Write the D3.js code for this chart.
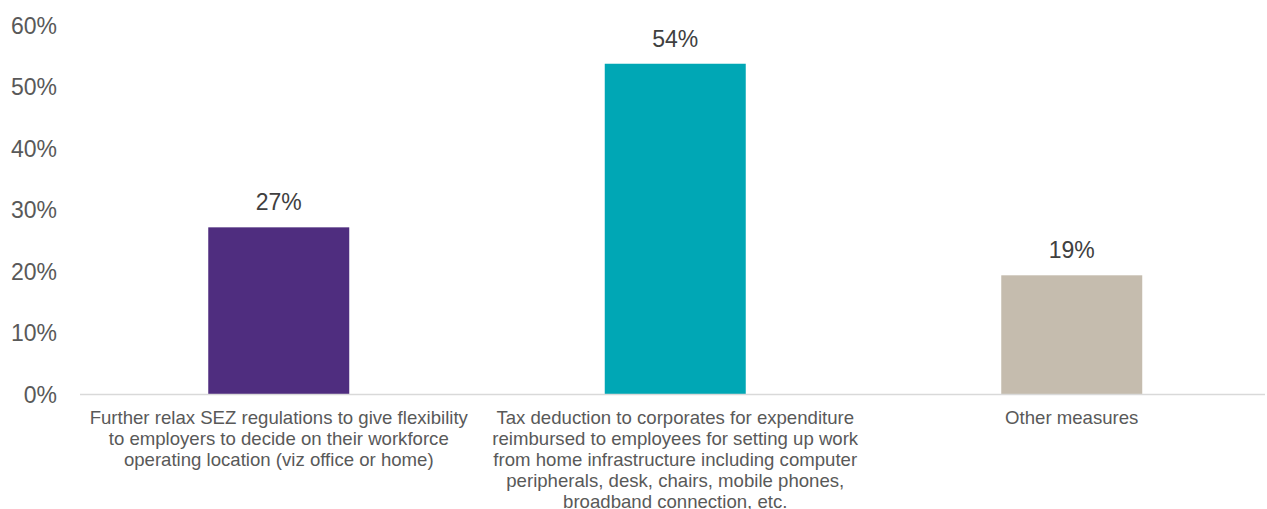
<!DOCTYPE html>
<html><head>
<meta charset="utf-8">
<script src="https://d3js.org/d3.v7.min.js"></script>
<style>
  body { margin: 0; background: #fff; }
  text { font-family: "Liberation Sans", Arial, sans-serif; }
</style>
</head>
<body>
<svg width="1267" height="509"></svg>
<script>
// chart data
var categories = [
  ["Further relax SEZ regulations to give flexibility", "to employers to decide on their workforce", "operating location (viz office or home)"],
  ["Tax deduction to corporates for expenditure", "reimbursed to employees for setting up work", "from home infrastructure including computer", "peripherals, desk, chairs, mobile phones,", "broadband connection, etc."],
  ["Other measures"]
];
var values = [27.1, 53.7, 19.3];
var valueLabels = ["27%", "54%", "19%"];
var colors = ["#4f2d7f", "#00a7b5", "#c5bcae"];
var yTicks = [0, 10, 20, 30, 40, 50, 60];

const svg = d3.select("svg");
var plotLeft = 80, plotRight = 1265, plotTop = 25, plotBottom = 394;

var x = d3.scaleBand().domain(d3.range(values.length)).range([80.5, 1270]).paddingInner(0.6444).paddingOuter(0.3222);
var y = d3.scaleLinear().domain([0, 60]).range([plotBottom, plotTop]);

// y axis labels
var yAxis = d3.axisLeft(y).tickValues(yTicks).tickSize(0).tickPadding(0).tickFormat(function(d) { return d + "%"; });
var ga = svg.append("g").attr("transform", "translate(" + 57 + ",0)").call(yAxis);
ga.select(".domain").remove();
ga.selectAll("text").attr("fill", "#595959").style("font-size", "23px").attr("dy", "0.35em")
  .style("font-family", "'Liberation Sans', Arial, sans-serif");

// bars
svg.append("g").selectAll("rect")
  .data(values)
  .enter().append("rect")
  .attr("x", function(d, i) { return x(i); })
  .attr("y", function(d) { return y(d); })
  .attr("width", x.bandwidth())
  .attr("height", function(d) { return y(0) - y(d); })
  .attr("fill", function(d, i) { return colors[i]; });

// baseline
svg.append("line")
  .attr("x1", plotLeft).attr("x2", plotRight)
  .attr("y1", y(0) + 0.5).attr("y2", y(0) + 0.5)
  .attr("stroke", "#d9d9d9").attr("stroke-width", 1.5);

// value labels
svg.append("g").selectAll("text")
  .data(values)
  .enter().append("text")
  .attr("x", function(d, i) { return x(i) + x.bandwidth() / 2; })
  .attr("y", function(d) { return y(d) - 17; })
  .attr("text-anchor", "middle")
  .attr("fill", "#404040")
  .style("font-size", "23px")
  .text(function(d, i) { return valueLabels[i]; });

// category labels
var cl = svg.append("g").selectAll("text")
  .data(categories)
  .enter().append("text")
  .attr("text-anchor", "middle")
  .attr("fill", "#595959")
  .style("font-size", "18.6px");
cl.selectAll("tspan")
  .data(function(d, i) { return d.map(function(s) { return { s: s, i: i }; }); })
  .enter().append("tspan")
  .attr("x", function(d) { return x(d.i) + x.bandwidth() / 2; })
  .attr("y", function(d, j) { return 424 + j * 21; })
  .text(function(d) { return d.s; });
</script>
</body></html>
